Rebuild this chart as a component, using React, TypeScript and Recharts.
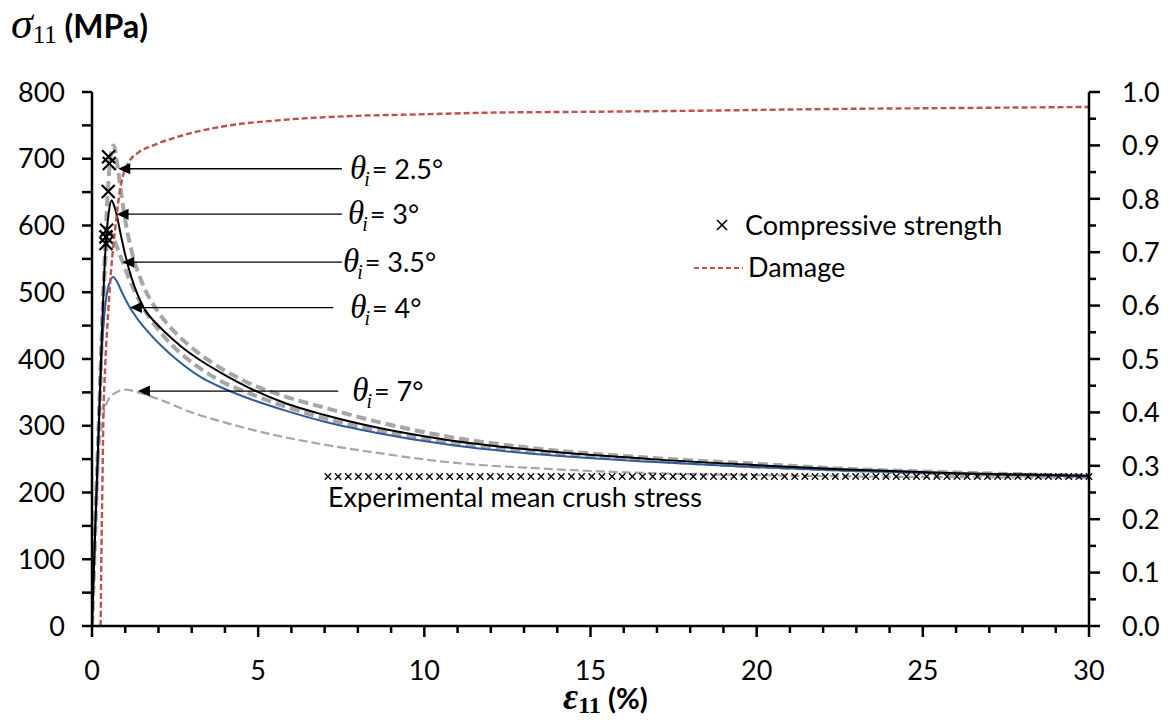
import React from 'react';
import { ComposedChart, Line, Scatter, XAxis, YAxis, ReferenceLine, Legend } from 'recharts';

const FONT = 'Lato, "Open Sans", sans-serif';
const SERIF = '"Liberation Serif", "DejaVu Serif", serif';
const GRAY = '#A6A6A6';
const BLUE = '#2F5B9B';
const RED = '#C0504D';

// strain (%) vs stress (MPa)
const theta25 = [
  { x: 0, y: 0 }, { x: 0.1, y: 150 }, { x: 0.2, y: 295 }, { x: 0.3, y: 440 }, { x: 0.4, y: 575 },
  { x: 0.5, y: 670 }, { x: 0.58, y: 710 }, { x: 0.65, y: 720 }, { x: 0.72, y: 705 }, { x: 0.78, y: 685 },
  { x: 0.9, y: 640 }, { x: 1.0, y: 608 }, { x: 1.2, y: 560 }, { x: 1.5, y: 515 }, { x: 2.0, y: 470 },
  { x: 2.5, y: 440 }, { x: 3.0, y: 417 }, { x: 3.6, y: 395 }, { x: 4.2, y: 377 }, { x: 4.76, y: 363 },
  { x: 5.8, y: 344 }, { x: 7.0, y: 327 }, { x: 8.5, y: 307 }, { x: 10.8, y: 283 }, { x: 13.0, y: 268 },
  { x: 16.8, y: 252 }, { x: 20.0, y: 243 }, { x: 22.5, y: 236 }, { x: 26.0, y: 230 }, { x: 30.0, y: 225 },
];
const theta3 = [
  { x: 0, y: 0 }, { x: 0.1, y: 150 }, { x: 0.2, y: 295 }, { x: 0.3, y: 440 }, { x: 0.4, y: 560 },
  { x: 0.5, y: 618 }, { x: 0.59, y: 638 }, { x: 0.65, y: 632 }, { x: 0.74, y: 617 }, { x: 0.85, y: 590 },
  { x: 1.0, y: 556 }, { x: 1.2, y: 520 }, { x: 1.4, y: 493 }, { x: 1.6, y: 473 }, { x: 1.9, y: 455 },
  { x: 2.2, y: 440 }, { x: 2.7, y: 418 }, { x: 3.2, y: 400 }, { x: 4.0, y: 376 }, { x: 4.76, y: 356 },
  { x: 5.8, y: 334 }, { x: 7.0, y: 316 }, { x: 8.5, y: 298 }, { x: 10.8, y: 278 }, { x: 13.0, y: 265 },
  { x: 16.8, y: 250 }, { x: 20.0, y: 241 }, { x: 22.5, y: 235 }, { x: 26.0, y: 229 }, { x: 30.0, y: 225 },
];
const theta35 = [
  { x: 0, y: 0 }, { x: 0.1, y: 150 }, { x: 0.2, y: 295 }, { x: 0.3, y: 440 }, { x: 0.4, y: 545 },
  { x: 0.47, y: 580 }, { x: 0.53, y: 590 }, { x: 0.62, y: 585 }, { x: 0.72, y: 572 }, { x: 0.84, y: 556 },
  { x: 0.94, y: 543 }, { x: 1.1, y: 522 }, { x: 1.3, y: 500 }, { x: 1.55, y: 476 }, { x: 1.95, y: 447 },
  { x: 2.4, y: 421 }, { x: 2.9, y: 399 }, { x: 3.8, y: 369 }, { x: 4.76, y: 348 }, { x: 5.8, y: 329 },
  { x: 7.0, y: 311 }, { x: 8.5, y: 294 }, { x: 10.8, y: 275 }, { x: 13.0, y: 263 }, { x: 16.8, y: 248 },
  { x: 20.0, y: 239 }, { x: 22.5, y: 234 }, { x: 26.0, y: 228 }, { x: 30.0, y: 224 },
];
const theta4 = [
  { x: 0, y: 0 }, { x: 0.1, y: 150 }, { x: 0.2, y: 290 }, { x: 0.3, y: 415 }, { x: 0.4, y: 480 },
  { x: 0.5, y: 510 }, { x: 0.64, y: 523 }, { x: 0.75, y: 516 }, { x: 0.9, y: 500 }, { x: 1.14, y: 477 },
  { x: 1.4, y: 458 }, { x: 1.7, y: 440 }, { x: 2.1, y: 419 }, { x: 2.6, y: 397 }, { x: 3.3, y: 372 },
  { x: 4.0, y: 355 }, { x: 4.76, y: 340 }, { x: 5.8, y: 323 }, { x: 7.0, y: 306 }, { x: 8.5, y: 290 },
  { x: 10.8, y: 271 }, { x: 13.0, y: 259 }, { x: 16.8, y: 246 }, { x: 20.0, y: 238 }, { x: 22.5, y: 233 },
  { x: 26.0, y: 228 }, { x: 30.0, y: 224 },
];
const theta7 = [
  { x: 0, y: 0 }, { x: 0.1, y: 145 }, { x: 0.2, y: 255 }, { x: 0.3, y: 305 }, { x: 0.4, y: 328 },
  { x: 0.5, y: 340 }, { x: 0.7, y: 349 }, { x: 1.0, y: 354 }, { x: 1.45, y: 349 }, { x: 2.05, y: 339 },
  { x: 3.05, y: 319 }, { x: 4.06, y: 304 }, { x: 5.06, y: 291 }, { x: 6.5, y: 276 }, { x: 8.5, y: 260 },
  { x: 10.8, y: 245 }, { x: 13.5, y: 236 }, { x: 16.8, y: 229 }, { x: 20.0, y: 226 }, { x: 23.0, y: 224 },
  { x: 26.0, y: 223 }, { x: 30.0, y: 222 },
];
// damage (right axis)
const damage = [
  { x: 0.26, y: 0 }, { x: 0.28, y: 0.12 }, { x: 0.31, y: 0.25 }, { x: 0.34, y: 0.38 }, { x: 0.4, y: 0.49 },
  { x: 0.49, y: 0.59 }, { x: 0.58, y: 0.67 }, { x: 0.69, y: 0.74 }, { x: 0.84, y: 0.815 }, { x: 0.94, y: 0.845 },
  { x: 1.09, y: 0.867 }, { x: 1.4, y: 0.887 }, { x: 1.8, y: 0.899 }, { x: 2.8, y: 0.92 }, { x: 3.8, y: 0.934 },
  { x: 5.8, y: 0.948 }, { x: 7.8, y: 0.955 }, { x: 9.8, y: 0.958 }, { x: 11.7, y: 0.961 }, { x: 15.0, y: 0.963 },
  { x: 18.3, y: 0.965 }, { x: 22.0, y: 0.968 }, { x: 26.0, y: 0.970 }, { x: 30.0, y: 0.972 },
];
const compressiveStrength = [
  { x: 0.5, y: 703 }, { x: 0.52, y: 693 }, { x: 0.49, y: 651 }, { x: 0.44, y: 593 }, { x: 0.42, y: 583 }, { x: 0.42, y: 573 },
];
const experimentalCrush = { value: 224, from: 7.1, to: 30 };

const annotations = [
  { label: '2.5', y: 685, tip: 0.79, tail: 7.52, dx: 8 },
  { label: '3', y: 617, tip: 0.74, tail: 7.52, dx: 6 },
  { label: '3.5', y: 545, tip: 0.91, tail: 7.52, dx: 1 },
  { label: '4', y: 477, tip: 1.14, tail: 7.26, dx: 17 },
  { label: '7', y: 352, tip: 1.38, tail: 7.41, dx: 14 },
];

const X_TICKS = [0, 1, 2, 3, 4, 5, 6, 7, 8, 9, 10, 11, 12, 13, 14, 15, 16, 17, 18, 19, 20, 21, 22, 23, 24, 25, 26, 27, 28, 29, 30];
const X_LABELS = [0, 5, 10, 15, 20, 25, 30];
const Y_TICKS = [0, 50, 100, 150, 200, 250, 300, 350, 400, 450, 500, 550, 600, 650, 700, 750, 800];
const Y_LABELS = [0, 100, 200, 300, 400, 500, 600, 700, 800];
const Y2_TICKS = [0, 0.05, 0.1, 0.15, 0.2, 0.25, 0.3, 0.35, 0.4, 0.45, 0.5, 0.55, 0.6, 0.65, 0.7, 0.75, 0.8, 0.85, 0.9, 0.95, 1.0];
const Y2_LABELS = [0, 0.1, 0.2, 0.3, 0.4, 0.5, 0.6, 0.7, 0.8, 0.9, 1.0];

const TICK_FS = 27;
const near = (arr: number[], v: number) => arr.some((a) => Math.abs(a - v) < 1e-6);

const XTick = (p: any) => {
  const { x, y, payload } = p;
  const v = payload.value;
  const major = near(X_LABELS, v);
  return (
    <g>
      <line x1={x} x2={x} y1={y} y2={y + (major ? 11 : 7)} stroke="#000" strokeWidth={2.5} />
      {major && (
        <text x={x} y={y + 54} textAnchor="middle" fontFamily={FONT} fontSize={TICK_FS} fill="#000">{v}</text>
      )}
    </g>
  );
};
const YTick = (p: any) => {
  const { x, y, payload } = p;
  const v = payload.value;
  const major = near(Y_LABELS, v);
  return (
    <g>
      <line x1={x - 10} x2={x} y1={y} y2={y} stroke="#000" strokeWidth={2.5} />
      {major && (
        <text x={x - 27} y={y} dy="0.36em" textAnchor="end" fontFamily={FONT} fontSize={TICK_FS} fill="#000">{v}</text>
      )}
    </g>
  );
};
const Y2Tick = (p: any) => {
  const { x, y, payload } = p;
  const v = payload.value;
  const major = near(Y2_LABELS, v);
  return (
    <g>
      <line x1={x} x2={x + (major ? 11 : 7)} y1={y} y2={y} stroke="#000" strokeWidth={2.5} />
      {major && (
        <text x={x + 33} y={y} dy="0.36em" textAnchor="start" fontFamily={FONT} fontSize={TICK_FS} fill="#000">{v.toFixed(1)}</text>
      )}
    </g>
  );
};

const Cross = (p: any) => {
  const { cx, cy } = p;
  const s = 6.5;
  return (
    <g stroke="#000" strokeWidth={2.2}>
      <line x1={cx - s} y1={cy - s} x2={cx + s} y2={cy + s} />
      <line x1={cx - s} y1={cy + s} x2={cx + s} y2={cy - s} />
    </g>
  );
};

const ExpShape = (p: any) => {
  const { x1, x2, y1 } = p;
  const n = Math.round((x2 - x1) / 10.2);
  const s = 3.2;
  const marks = [];
  for (let i = 0; i <= n; i++) {
    const cx = x1 + ((x2 - x1) * i) / n;
    marks.push(
      <g key={i} stroke="#000" strokeWidth={1.3}>
        <line x1={cx - s} y1={y1 - s} x2={cx + s} y2={y1 + s} />
        <line x1={cx - s} y1={y1 + s} x2={cx + s} y2={y1 - s} />
      </g>
    );
  }
  return (
    <g>
      {marks}
      <text x={x1} y={y1 + 31} fontFamily={FONT} fontSize={TICK_FS} fill="#000">Experimental mean crush stress</text>
    </g>
  );
};

const makeArrow = (label: string, dx: number) => (p: any) => {
  const { x1, y1, x2 } = p;
  return (
    <g>
      <line x1={x1} y1={y1} x2={x2 + 8} y2={y1} stroke="#000" strokeWidth={1.3} />
      <polygon points={`${x2},${y1} ${x2 + 12},${y1 - 5.5} ${x2 + 12},${y1 + 5.5}`} fill="#000" />
      <text x={x1 + dx} y={y1 + 10} fontFamily={FONT} fontSize={TICK_FS} fill="#000">
        <tspan fontFamily={SERIF} fontStyle="italic" fontSize={33}>θ</tspan>
        <tspan fontFamily={SERIF} fontStyle="italic" fontSize={20} dx={-2} dy={7}>i</tspan>
        <tspan dy={-7} dx={2}>{`= ${label}°`}</tspan>
      </text>
    </g>
  );
};

const XTitle = () => (
  <text x={563} y={709} fontFamily={FONT} fontWeight="bold" fontSize={29} fill="#000">
    <tspan fontFamily={SERIF} fontStyle="italic" fontWeight="bold" fontSize={37}>ε</tspan>
    <tspan fontFamily={SERIF} fontWeight="bold" fontSize={24} dy={4}>11</tspan>
    <tspan dy={-4}> (%)</tspan>
  </text>
);
const YTitle = () => (
  <text x={11} y={38} fontFamily={FONT} fontWeight="bold" fontSize={32} fill="#000">
    <tspan fontFamily={SERIF} fontStyle="italic" fontSize={44} fontWeight="normal">σ</tspan>
    <tspan fontFamily={SERIF} fontSize={25} fontWeight="normal" dy={5}>11</tspan>
    <tspan dy={-5}> (MPa)</tspan>
  </text>
);

const LegendContent = () => (
  <svg width={340} height={100} style={{ overflow: 'visible' }}>
    <g stroke="#000" strokeWidth={1.6}>
      <line x1={37} y1={20} x2={47} y2={30} />
      <line x1={37} y1={30} x2={47} y2={20} />
    </g>
    <text x={65} y={35} fontFamily={FONT} fontSize={TICK_FS} fill="#000">Compressive strength</text>
    <line x1={14} x2={63} y1={68} y2={68} stroke={RED} strokeWidth={2.2} strokeDasharray="5 3" />
    <text x={68} y={77} fontFamily={FONT} fontSize={TICK_FS} fill="#000">Damage</text>
  </svg>
);

export default function App() {
  return (
    <div style={{ position: 'absolute', left: 0, top: 0, width: 1168, height: 720, background: '#fff' }}>
      <ComposedChart width={1168} height={720} margin={{ top: 92, right: 19, bottom: 44, left: 12 }}>
        <XAxis
          xAxisId="x"
          type="number"
          dataKey="x"
          domain={[0, 30]}
          ticks={X_TICKS}
          interval={0}
          tick={<XTick />}
          tickLine={false}
          tickSize={0}
          tickMargin={0}
          axisLine={{ stroke: '#000', strokeWidth: 2.5 }}
          height={50}
          allowDataOverflow
          label={(props: any) => <XTitle />}
        />
        <YAxis
          yAxisId="left"
          type="number"
          dataKey="y"
          domain={[0, 800]}
          ticks={Y_TICKS}
          interval={0}
          tick={<YTick />}
          tickLine={false}
          tickSize={0}
          tickMargin={0}
          axisLine={{ stroke: '#000', strokeWidth: 2.5 }}
          width={80}
          allowDataOverflow
          label={(props: any) => <YTitle />}
        />
        <YAxis
          yAxisId="right"
          orientation="right"
          type="number"
          dataKey="y"
          domain={[0, 1]}
          ticks={Y2_TICKS}
          interval={0}
          tick={<Y2Tick />}
          tickLine={false}
          tickSize={0}
          tickMargin={0}
          axisLine={{ stroke: '#000', strokeWidth: 2.5 }}
          width={60}
          allowDataOverflow
        />
        <Legend
          verticalAlign="middle"
          align="center"
          layout="horizontal"
          content={() => <LegendContent />}
          wrapperStyle={{ position: 'absolute', left: 680, top: 200, width: 340, height: 100 }}
        />
        <Line xAxisId="x" yAxisId="left" data={theta7} dataKey="y" type="monotone" stroke={GRAY} strokeWidth={2.2} strokeDasharray="9 4" dot={false} isAnimationActive={false} />
        <Line xAxisId="x" yAxisId="left" data={theta25} dataKey="y" type="monotone" stroke={GRAY} strokeWidth={4} strokeDasharray="10 5" dot={false} isAnimationActive={false} />
        <Line xAxisId="x" yAxisId="left" data={theta35} dataKey="y" type="monotone" stroke={GRAY} strokeWidth={4} strokeDasharray="10 5" dot={false} isAnimationActive={false} />
        <Line xAxisId="x" yAxisId="left" data={theta4} dataKey="y" type="monotone" stroke={BLUE} strokeWidth={2} dot={false} isAnimationActive={false} />
        <Line xAxisId="x" yAxisId="left" data={theta3} dataKey="y" type="monotone" stroke="#000" strokeWidth={2} dot={false} isAnimationActive={false} />
        <Line xAxisId="x" yAxisId="right" data={damage} dataKey="y" type="monotone" stroke={RED} strokeWidth={2.4} strokeDasharray="6 3" dot={false} isAnimationActive={false} />
        <Scatter xAxisId="x" yAxisId="left" data={compressiveStrength} dataKey="y" shape={<Cross />} isAnimationActive={false} />
        <ReferenceLine
          xAxisId="x"
          yAxisId="left"
          segment={[{ x: experimentalCrush.from, y: experimentalCrush.value }, { x: experimentalCrush.to, y: experimentalCrush.value }]}
          shape={ExpShape}
          ifOverflow="visible"
        />
        {annotations.map((a) => (
          <ReferenceLine
            key={a.label}
            xAxisId="x"
            yAxisId="left"
            segment={[{ x: a.tail, y: a.y }, { x: a.tip, y: a.y }]}
            shape={makeArrow(a.label, a.dx)}
            ifOverflow="visible"
          />
        ))}
      </ComposedChart>
    </div>
  );
}
